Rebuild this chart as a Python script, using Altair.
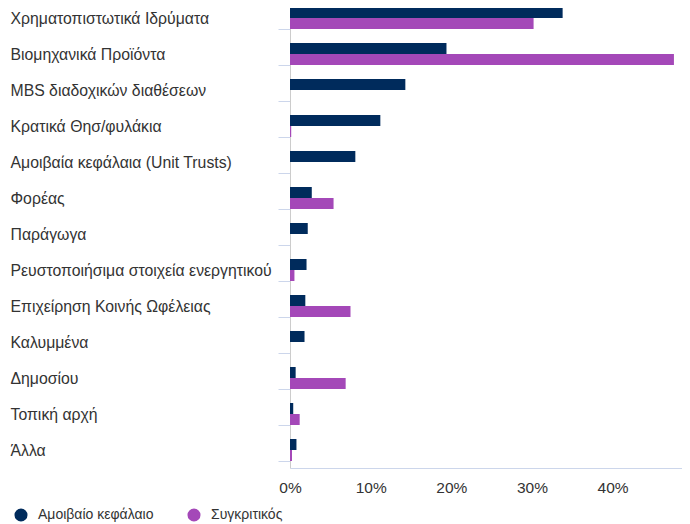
import altair as alt
import pandas as pd

categories = [
    "Χρηματοπιστωτικά Ιδρύματα",
    "Βιομηχανικά Προϊόντα",
    "MBS διαδοχικών διαθέσεων",
    "Κρατικά Θησ/φυλάκια",
    "Αμοιβαία κεφάλαια (Unit Trusts)",
    "Φορέας",
    "Παράγωγα",
    "Ρευστοποιήσιμα στοιχεία ενεργητικού",
    "Επιχείρηση Κοινής Ωφέλειας",
    "Καλυμμένα",
    "Δημοσίου",
    "Τοπική αρχή",
    "Άλλα",
]
series = ["Αμοιβαίο κεφάλαιο", "Συγκριτικός"]
fund = [33.8, 19.4, 14.3, 11.2, 8.1, 2.7, 2.2, 2.05, 1.9, 1.8, 0.7, 0.4, 0.8]
bench = [30.2, 47.6, 0.0, 0.15, 0.0, 5.4, 0.0, 0.55, 7.5, 0.0, 6.9, 1.2, 0.25]
x_ticks = [0, 10, 20, 30, 40]
colors = ["#002B5C", "#A448B8"]

rows = []
for c, f, b in zip(categories, fund, bench):
    rows.append({"cat": c, "series": series[0], "value": f})
    rows.append({"cat": c, "series": series[1], "value": b})
df = pd.DataFrame(rows)

FONT = "Liberation Sans"

chart = alt.Chart(df).mark_bar().encode(
    y=alt.Y(
        "cat:N",
        sort=categories,
        title=None,
        scale=alt.Scale(paddingInner=0.389, paddingOuter=0.1945),
        axis=alt.Axis(
            labelAlign="left",
            labelPadding=268,
            tickSize=12,
            tickBand="extent",
            tickColor="#ccd6eb",
            domainColor="#cccccc",
            labelFont=FONT,
            labelFontSize=15.8,
            labelColor="#333333",
            labelLimit=300,
        ),
    ),
    yOffset=alt.YOffset("series:N", sort=series),
    x=alt.X(
        "value:Q",
        title=None,
        scale=alt.Scale(domain=[0, 48.6], nice=False),
        axis=alt.Axis(
            values=x_ticks,
            labelExpr="datum.value + '%'",
            grid=False,
            ticks=False,
            labelFlush=False,
            domainColor="#ccd6eb",
            labelFont=FONT,
            labelFontSize=15.5,
            labelColor="#333333",
            labelPadding=12,
        ),
    ),
    color=alt.Color(
        "series:N",
        sort=series,
        scale=alt.Scale(domain=series, range=colors),
        legend=alt.Legend(
            title=None,
            orient="none",
            legendX=-276,
            legendY=508,
            direction="horizontal",
            symbolType="circle",
            symbolSize=170,
            symbolStrokeWidth=0,
            labelFont=FONT,
            labelFontSize=14,
            labelColor="#333333",
            columnPadding=33,
            labelOffset=10,
        ),
    ),
).properties(
    width=392,
    height=468,
    padding={"left": 2, "top": -16, "right": 0, "bottom": 0},
).configure_view(stroke=None)

chart.save("out.html", embed_options={"renderer": "svg", "actions": False})
